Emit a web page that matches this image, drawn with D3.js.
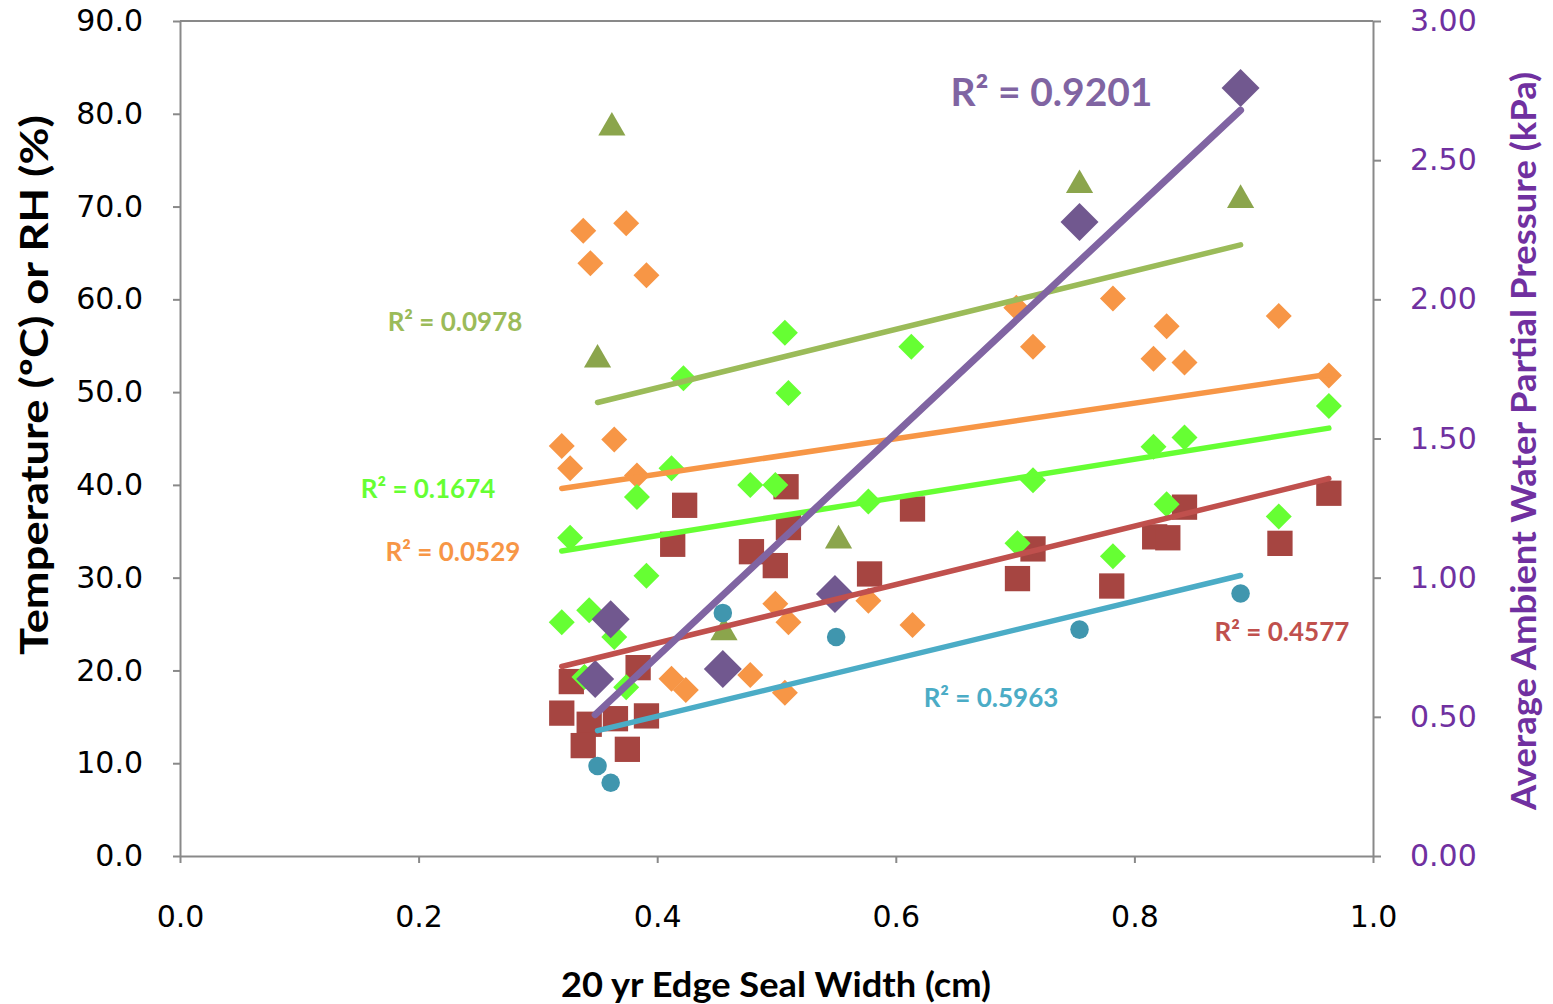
<!DOCTYPE html>
<html>
<head>
<meta charset="utf-8">
<script src="https://cdn.jsdelivr.net/npm/d3@7"></script>
<style>
  html, body { margin: 0; padding: 0; background: #fff; }
  svg { display: block; }
</style>
</head>
<body>
<div id="chart"></div>
<script>
// Edge seal width vs. temperature / RH / water partial pressure
// Six scatter series, each with its own linear trendline + R² label.

// --- Data (x = edge seal width, cm) ---
var triX = [0.362, 0.350, 0.456, 0.552, 0.754, 0.889];
var triY = [78.5, 53.5, 24.1, 34.0, 72.3, 70.7];

var orangeX = [0.320, 0.327, 0.338, 0.344, 0.364, 0.374, 0.383, 0.391, 0.412, 0.424, 0.478, 0.499,
               0.510, 0.507, 0.577, 0.614, 0.701, 0.715, 0.782, 0.816, 0.827, 0.842, 0.921, 0.963];
var orangeY = [44.2, 41.8, 67.4, 63.9, 44.9, 68.2, 41.0, 62.6, 19.1, 17.9, 19.5, 27.2,
               25.2, 17.6, 27.5, 24.9, 59.1, 54.9, 60.1, 53.6, 57.1, 53.2, 58.2, 51.8];

var greenX = [0.320, 0.327, 0.343, 0.339, 0.364, 0.374, 0.383, 0.391, 0.412, 0.422, 0.478, 0.499,
              0.507, 0.510, 0.577, 0.613, 0.702, 0.715, 0.782, 0.816, 0.842, 0.827, 0.921, 0.963];
var greenY = [25.2, 34.3, 26.5, 19.3, 23.6, 18.2, 38.7, 30.2, 41.8, 51.5, 40.0, 40.0,
              56.4, 49.9, 38.2, 54.9, 33.7, 40.5, 32.3, 44.1, 45.1, 37.9, 36.6, 48.5];

var redX = [0.328, 0.320, 0.343, 0.338, 0.365, 0.391, 0.384, 0.375, 0.423, 0.413, 0.508, 0.510,
            0.479, 0.499, 0.578, 0.614, 0.715, 0.702, 0.781, 0.842, 0.817, 0.828, 0.922, 0.963];
var redY = [18.8, 15.4, 14.2, 11.9, 14.8, 15.1, 20.3, 11.5, 37.8, 33.6, 39.8, 35.4,
            32.8, 31.3, 30.4, 37.4, 33.1, 29.9, 29.1, 37.6, 34.4, 34.3, 33.7, 39.1];

var tealX = [0.350, 0.361, 0.455, 0.550, 0.754, 0.889];
var tealY = [9.7, 7.9, 26.2, 23.6, 24.4, 28.3];

// water partial pressure, kPa (right axis)
var purpleX = [0.348, 0.361, 0.455, 0.549, 0.754, 0.889];
var purpleY = [0.636, 0.851, 0.672, 0.941, 2.278, 2.759];

// --- Tick labels ---
var xTicks = [0.0, 0.2, 0.4, 0.6, 0.8, 1.0];
var yLeftTicks = [0, 10, 20, 30, 40, 50, 60, 70, 80, 90];
var yRightTicks = [0, 0.5, 1.0, 1.5, 2.0, 2.5, 3.0];

// --- R² annotations (anchor in data units, left axis) ---
var r2Text = ["R² = 0.9201", "R² = 0.0978", "R² = 0.1674", "R² = 0.0529", "R² = 0.4577", "R² = 0.5963"];
var r2AtX  = [0.7305, 0.2305, 0.2079, 0.2288, 0.9237, 0.6798];
var r2AtY  = [80.8, 56.6, 38.6, 31.8, 23.2, 16.1];

var W = 1553, H = 1004;
var margin = { top: 21, right: 180, bottom: 148, left: 180 };
var plotW = W - margin.left - margin.right;
var plotH = H - margin.top - margin.bottom;

var svg = d3.select("#chart").append("svg")
    .attr("width", W)
    .attr("height", H)
    .style("background", "#fff");

var x = d3.scaleLinear().domain([0, 1]).range([margin.left, margin.left + plotW]);
var yL = d3.scaleLinear().domain([0, 90]).range([margin.top + plotH, margin.top]);
var yR = d3.scaleLinear().domain([0, 3]).range([margin.top + plotH, margin.top]);

var axisColor = "#898989";
var tickFont = "'DejaVu Sans', Verdana, sans-serif";
var titleFont = "Lato, 'Open Sans', sans-serif";

// top border of the plot area
svg.append("line")
    .attr("x1", x(0)).attr("x2", x(1))
    .attr("y1", yL(90)).attr("y2", yL(90))
    .attr("stroke", axisColor).attr("stroke-width", 2);

function styleAxis(sel, color) {
    sel.select(".domain").attr("stroke", axisColor).attr("stroke-width", 2);
    sel.selectAll(".tick line").attr("stroke", axisColor).attr("stroke-width", 2);
    sel.selectAll(".tick text")
        .style("font-family", tickFont)
        .style("font-size", "30px")
        .attr("fill", color);
}

var gx = svg.append("g")
    .attr("transform", "translate(0," + yL(0) + ")")
    .call(d3.axisBottom(x).tickValues(xTicks).tickFormat(d3.format(".1f"))
        .tickSizeInner(7).tickSizeOuter(0).tickPadding(43));
styleAxis(gx, "#000");

var gl = svg.append("g")
    .attr("transform", "translate(" + x(0) + ",0)")
    .call(d3.axisLeft(yL).tickValues(yLeftTicks).tickFormat(d3.format(".1f"))
        .tickSizeInner(7).tickSizeOuter(0).tickPadding(30));
styleAxis(gl, "#000");

var gr = svg.append("g")
    .attr("transform", "translate(" + x(1) + ",0)")
    .call(d3.axisRight(yR).tickValues(yRightTicks).tickFormat(d3.format(".2f"))
        .tickSizeInner(8).tickSizeOuter(0).tickPadding(29));
styleAxis(gr, "#7030A0");

// --- Axis titles ---
svg.append("text")
    .attr("x", 776)
    .attr("y", 997)
    .attr("text-anchor", "middle")
    .attr("textLength", 430)
    .attr("lengthAdjust", "spacingAndGlyphs")
    .style("font-family", titleFont)
    .style("font-weight", "bold")
    .style("font-size", "35px")
    .attr("fill", "#000")
    .text("20 yr Edge Seal Width (cm)");

svg.append("text")
    .attr("transform", "translate(48," + 385 + ") rotate(-90)")
    .attr("text-anchor", "middle")
    .attr("textLength", 540)
    .attr("lengthAdjust", "spacingAndGlyphs")
    .style("font-family", titleFont)
    .style("font-weight", "bold")
    .style("font-size", "38px")
    .attr("fill", "#000")
    .text("Temperature (ºC) or RH (%)");

svg.append("text")
    .attr("transform", "translate(1536," + 441 + ") rotate(-90)")
    .attr("text-anchor", "middle")
    .attr("textLength", 738)
    .attr("lengthAdjust", "spacingAndGlyphs")
    .style("font-family", titleFont)
    .style("font-weight", "bold")
    .style("font-size", "35px")
    .attr("fill", "#7030A0")
    .text("Average Ambient Water Partial Pressure (kPa)");

// --- Series ---
function zip(xs, ys) {
    return xs.map(function(v, i) { return { x: v, y: ys[i] }; });
}

var series = [
    { name: "tri",    data: zip(triX, triY),       y: yL, shape: d3.symbolTriangle, size: 320, fill: "#8BA54C", trend: "#9BBB59" },
    { name: "orange", data: zip(orangeX, orangeY), y: yL, shape: "diamond", size: 26,  fill: "#F79646", trend: "#F79646" },
    { name: "red",    data: zip(redX, redY),       y: yL, shape: d3.symbolSquare,   size: 640, fill: "#A64541", trend: "#C0504D" },
    { name: "green",  data: zip(greenX, greenY),   y: yL, shape: "diamond", size: 26,  fill: "#66FF33", trend: "#66FF33" },
    { name: "teal",   data: zip(tealX, tealY),     y: yL, shape: d3.symbolCircle,   size: 270, fill: "#4096AE", trend: "#4BACC6" },
    { name: "purple", data: zip(purpleX, purpleY), y: yR, shape: "diamond", size: 38,  fill: "#71588F", trend: "#8064A2" }
];

var marks = svg.append("g").attr("class", "marks");

series.forEach(function(s) {
    var g = marks.append("g").attr("class", "series-" + s.name);
    if (s.shape === "diamond") {
        var h = s.size / 2;
        g.selectAll("path").data(s.data).enter().append("path")
            .attr("d", "M0," + (-h) + "L" + h + ",0L0," + h + "L" + (-h) + ",0Z")
            .attr("transform", function(d) { return "translate(" + x(d.x) + "," + s.y(d.y) + ")"; })
            .attr("fill", s.fill);
    } else {
        g.selectAll("path").data(s.data).enter().append("path")
            .attr("d", d3.symbol().type(s.shape).size(s.size))
            .attr("transform", function(d) { return "translate(" + x(d.x) + "," + s.y(d.y) + ")"; })
            .attr("fill", s.fill);
    }
});

// --- Linear trendlines (least squares) ---
function fit(data) {
    var mx = d3.mean(data, function(d) { return d.x; });
    var my = d3.mean(data, function(d) { return d.y; });
    var sxy = d3.sum(data, function(d) { return (d.x - mx) * (d.y - my); });
    var sxx = d3.sum(data, function(d) { return (d.x - mx) * (d.x - mx); });
    var b = sxy / sxx;
    return { b: b, a: my - b * mx };
}

var trends = svg.append("g").attr("class", "trends");
["tri", "orange", "green", "red", "teal", "purple"].forEach(function(name) {
    var s = series.filter(function(t) { return t.name === name; })[0];
    var f = fit(s.data);
    var ext = d3.extent(s.data, function(d) { return d.x; });
    var pts = ext.map(function(v) { return { x: v, y: f.a + f.b * v }; });
    trends.append("path")
        .datum(pts)
        .attr("fill", "none")
        .attr("stroke", s.trend)
        .attr("stroke-width", name === "purple" ? 7 : 5.5)
        .attr("stroke-linecap", "round")
        .attr("d", d3.line().x(function(d) { return x(d.x); }).y(function(d) { return s.y(d.y); }));
});

// --- R² labels ---
var r2Colors = ["#8064A2", "#9BBB59", "#66FF33", "#F79646", "#C0504D", "#4BACC6"];
r2Text.forEach(function(t, i) {
    svg.append("text")
        .attr("x", x(r2AtX[i]))
        .attr("y", yL(r2AtY[i]))
        .attr("text-anchor", "middle")
        .style("font-family", titleFont)
        .style("font-weight", "bold")
        .style("font-size", i === 0 ? "39px" : "26px")
        .attr("fill", r2Colors[i])
        .text(t);
});
</script>
</body>
</html>
